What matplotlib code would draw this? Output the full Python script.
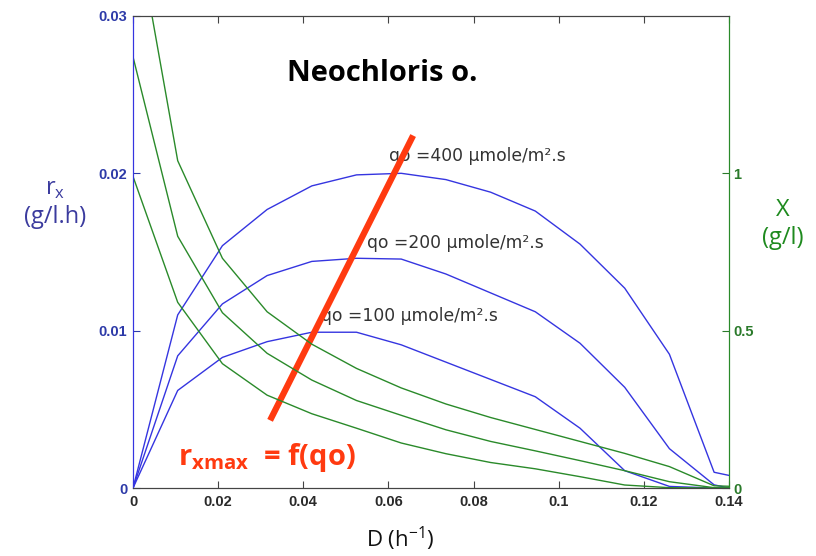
import numpy as np
import matplotlib.pyplot as plt

# dilution rate D (h-1)
D = [0, 0.0105, 0.021, 0.0315, 0.042, 0.0525, 0.063, 0.0735, 0.084,
     0.0945, 0.105, 0.1155, 0.126, 0.1365, 0.14]

# productivity rx (g/l.h), left axis
rx_400 = [0, 0.0110, 0.0154, 0.0177, 0.0192, 0.0199, 0.0200, 0.0196, 0.0188,
          0.0176, 0.0155, 0.0127, 0.0085, 0.0010, 0.0008]
rx_200 = [0, 0.0084, 0.0117, 0.0135, 0.0144, 0.0146, 0.01455, 0.0136, 0.0124,
          0.0112, 0.0092, 0.0064, 0.0025, 0.0002, 0.0]
rx_100 = [0, 0.0062, 0.0083, 0.0093, 0.0099, 0.0099, 0.0091, 0.0080, 0.0069,
          0.0058, 0.0038, 0.0011, 0.0001, 0.0, 0.0]

# biomass X (g/l), right axis
X_400 = [1.84, 1.04, 0.73, 0.56, 0.457, 0.38, 0.318, 0.267, 0.224,
         0.186, 0.148, 0.11, 0.068, 0.007, 0.0055]
X_200 = [1.37, 0.80, 0.557, 0.428, 0.343, 0.278, 0.231, 0.185, 0.148,
         0.118, 0.087, 0.055, 0.02, 0.001, 0.0]
X_100 = [0.99, 0.59, 0.395, 0.295, 0.236, 0.19, 0.143, 0.109, 0.081,
         0.061, 0.036, 0.0095, 0.001, 0.0, 0.0]

labels = ['qo =400 µmole/m².s', 'qo =200 µmole/m².s', 'qo =100 µmole/m².s']
label_pos = [(0.0601, 0.0211), (0.0550, 0.0156), (0.0442, 0.0109)]

# red trend line of the maxima
red_D = [0.0322, 0.0658]
red_rx = [0.0043, 0.0224]

xticks = [0, 0.02, 0.04, 0.06, 0.08, 0.1, 0.12, 0.14]
xticklabels = ['0', '0.02', '0.04', '0.06', '0.08', '0.1', '0.12', '0.14']
yticks = [0, 0.01, 0.02, 0.03]
yticklabels = ['0', '0.01', '0.02', '0.03']
y2ticks = [0, 0.5, 1]
y2ticklabels = ['0', '0.5', '1']

blue = '#3535e0'
green = '#2a8a2a'

plt.rcParams['font.family'] = ['Liberation Sans', 'DejaVu Sans']
plt.rcParams['mathtext.fontset'] = 'custom'
plt.rcParams['mathtext.bf'] = 'Open Sans:bold'
plt.rcParams['mathtext.rm'] = 'Open Sans'

fig = plt.figure(figsize=(8.16, 5.56), dpi=100)
ax = fig.add_axes([0.163, 0.1223, 0.7304, 0.849])
ax2 = ax.twinx()

for r in [rx_400, rx_200, rx_100]:
    ax.plot(D, r, color=blue, lw=1)
for x in [X_400, X_200, X_100]:
    ax2.plot(D, x, color=green, lw=1)

ax.set_xlim(0, 0.14)
ax.set_ylim(0, 0.03)
ax2.set_ylim(0, 1.5)

ax.set_xticks(xticks)
ax.set_xticklabels(xticklabels, fontsize=10.5, color='#2a2a2a', fontweight='bold')
ax.set_yticks(yticks)
ax.set_yticklabels(yticklabels, fontsize=10.5, color='#2d3aa8', fontweight='bold')
ax2.set_yticks(y2ticks)
ax2.set_yticklabels(y2ticklabels, fontsize=10.5, color='#2a7a2a', fontweight='bold')

ax.tick_params(axis='x', direction='in', length=5, top=True, pad=5,
               color='#444444')
ax.tick_params(axis='y', direction='in', length=5, colors='#2d3aa8', pad=4)
ax2.tick_params(axis='y', direction='in', length=5, colors='#2a7a2a', pad=3)
for lab in ax.get_yticklabels():
    lab.set_color('#2d3aa8')
for lab in ax2.get_yticklabels():
    lab.set_color('#2a7a2a')

for a in [ax, ax2]:
    a.spines['left'].set_color(blue)
    a.spines['right'].set_color(green)
    a.spines['top'].set_color('#444444')
    a.spines['bottom'].set_color('#444444')

for t, (px, py) in zip(labels, label_pos):
    ax.text(px, py, t, fontsize=12.3, color='#333333', va='center', ha='left',
            family='DejaVu Sans')

ax.plot(red_D, red_rx, color='#ff3a10', lw=4.5, solid_capstyle='butt', zorder=5)

fig.text(0.4685, 0.868, 'Neochloris o.', fontsize=21, fontweight='bold',
         ha='center', va='center', family='Open Sans')
fig.text(0.218, 0.178, r'$\mathbf{r_{xmax}}$  = f(qo)', fontsize=21,
         fontweight='bold', color='#ff3a10', ha='left', va='center',
         family='Open Sans')

fig.text(0.067, 0.635, 'r$_{\\mathrm{x}}$\n(g/l.h)', fontsize=17, color='#3b3b9e',
         ha='center', va='center', family='Open Sans', linespacing=1.25)
fig.text(0.959, 0.597, 'X\n(g/l)', fontsize=17, color='#1e8a1e',
         ha='center', va='center', family='Open Sans', linespacing=1.25)
fig.text(0.49, 0.03, 'D (h$^{\\mathrm{-1}}$)', fontsize=16, color='#111111',
         ha='center', va='center', family='Open Sans')

fig.savefig('out.png', dpi=100)
